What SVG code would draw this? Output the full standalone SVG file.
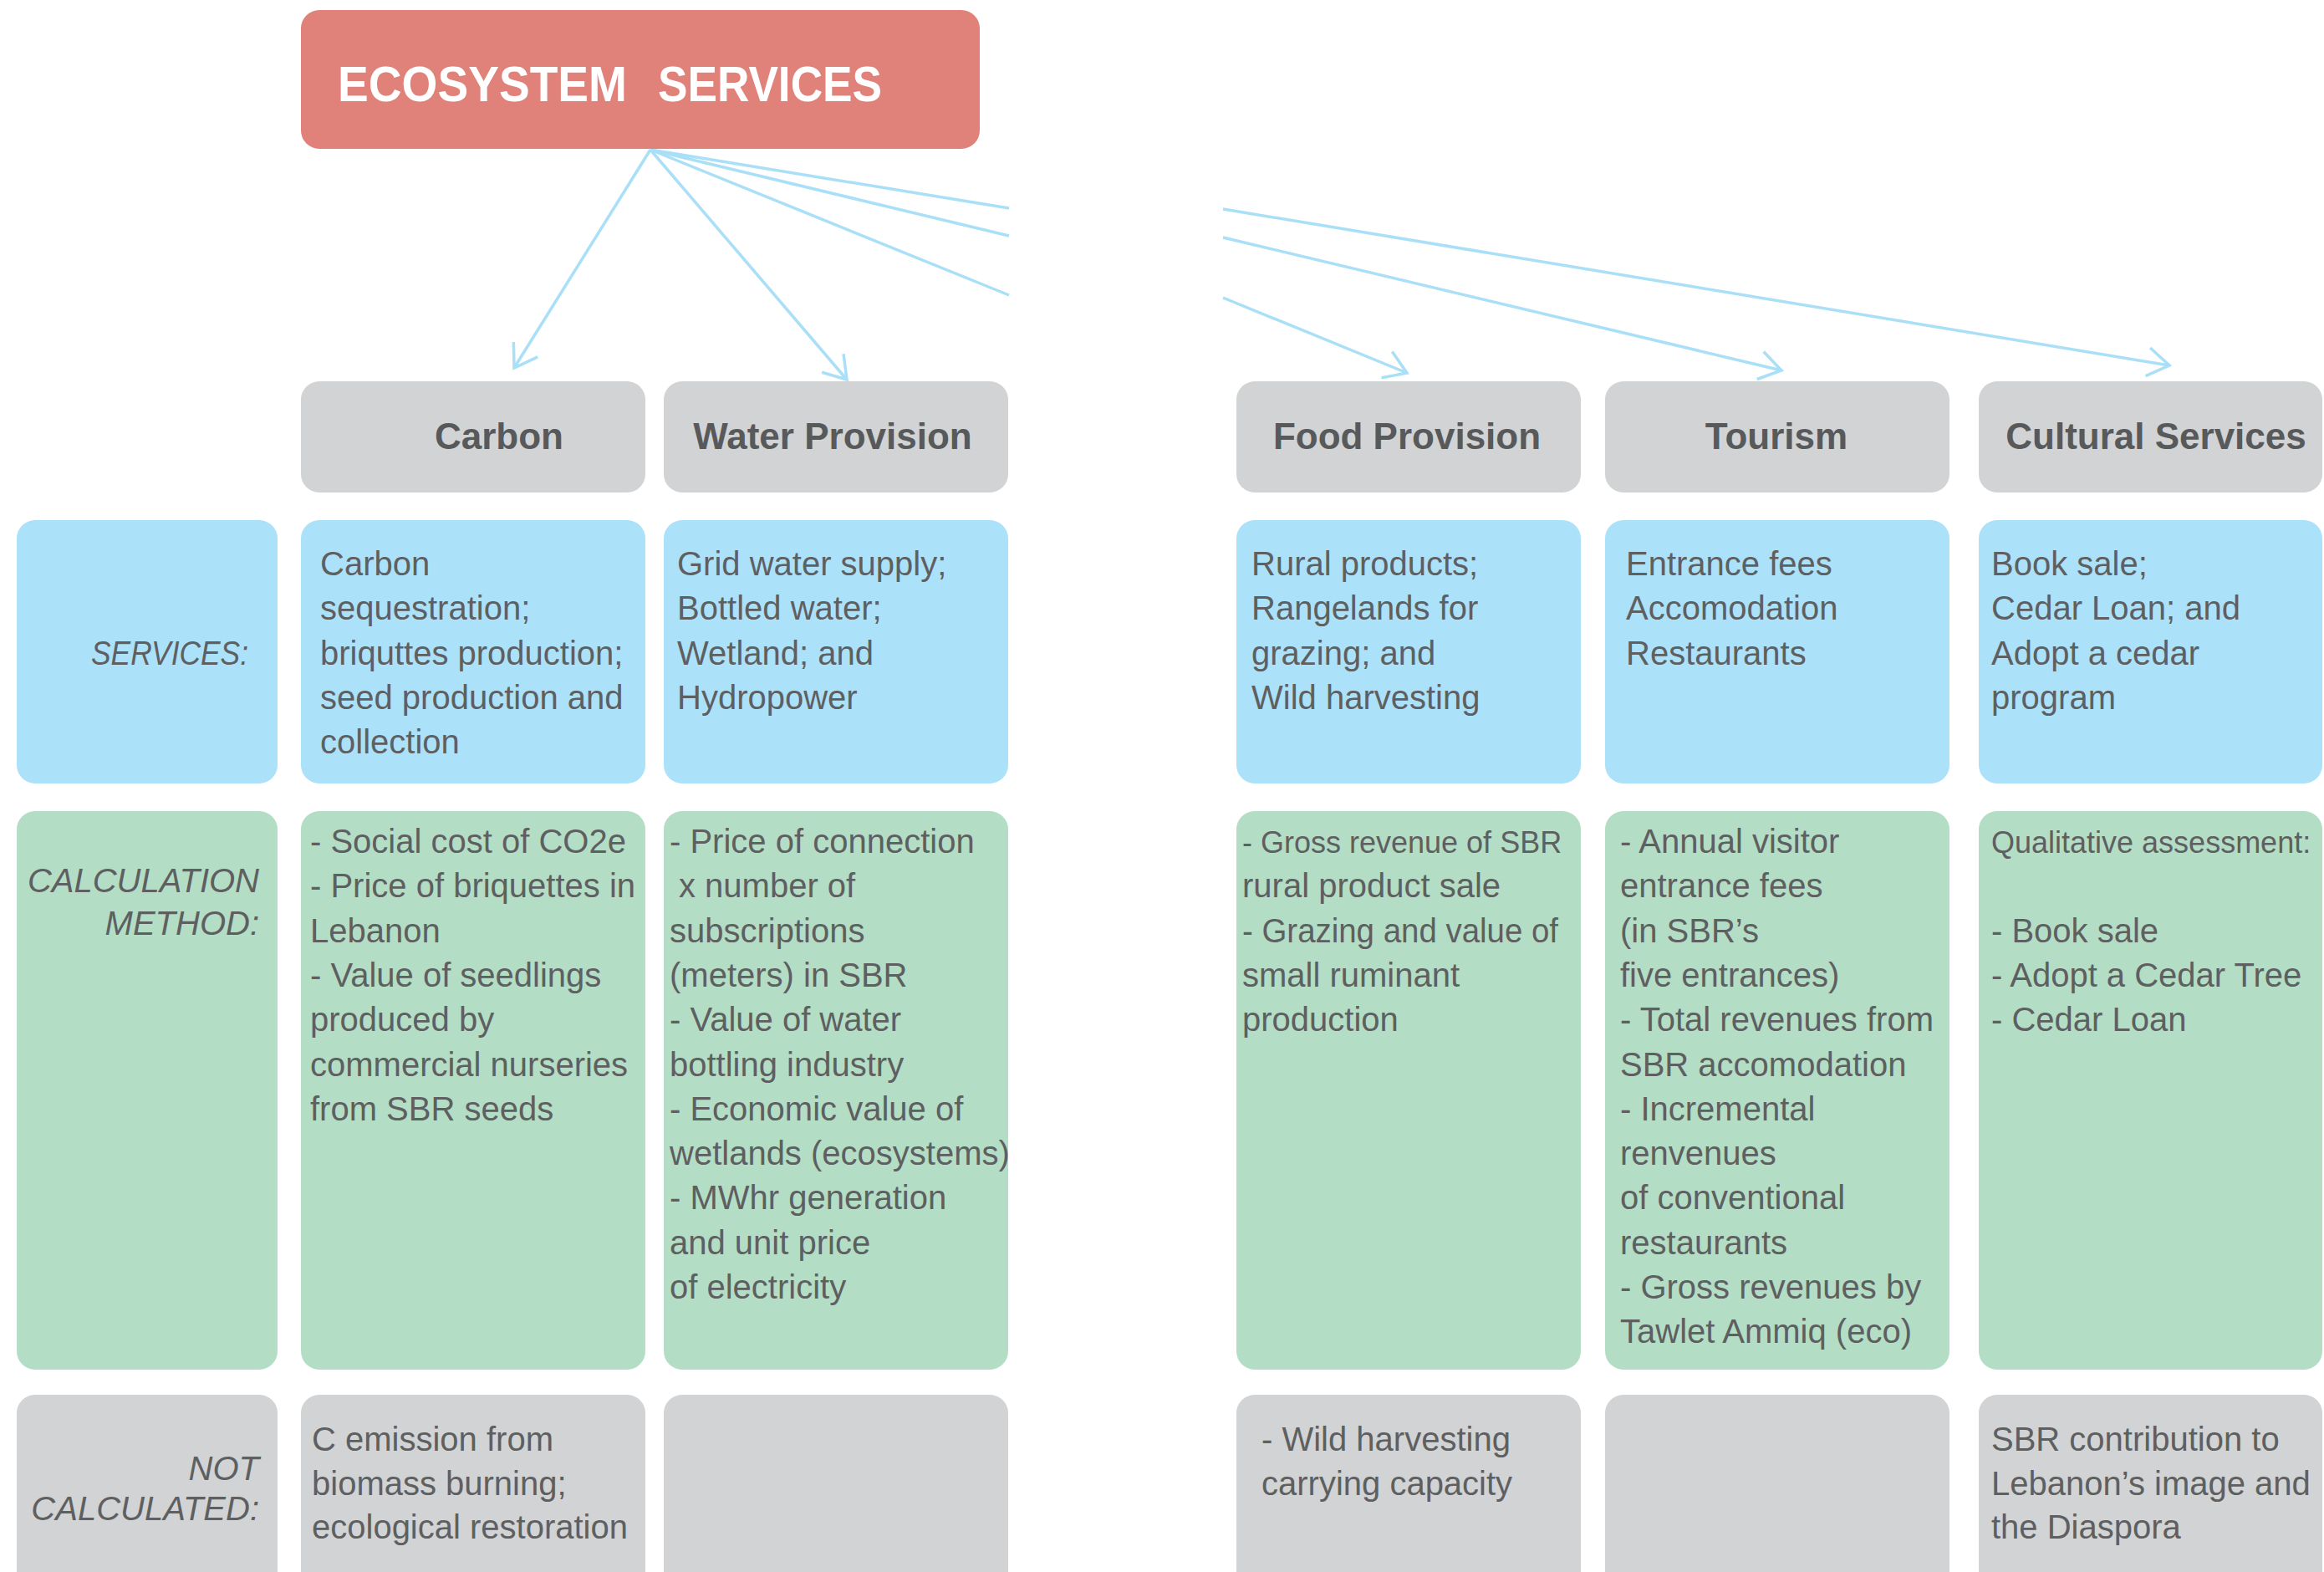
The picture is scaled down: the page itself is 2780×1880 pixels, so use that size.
<svg xmlns="http://www.w3.org/2000/svg" width="2780" height="1880" viewBox="0 0 2780 1880">
<defs>
<style>
.bg{fill:#ffffff}
.title{fill:#E0817A}
.hdr{fill:#D1D3D4}
.svc{fill:#ACE1FA}
.calc{fill:#B3DDC4}
.nc{fill:#D1D3D4}
.tt{font-family:"Liberation Sans",Arial,sans-serif;font-weight:bold;font-size:60px;fill:#ffffff}
.ht{font-family:"Liberation Sans",Arial,sans-serif;font-weight:bold;font-size:44px;fill:#58595B;text-anchor:middle}
.bt{font-family:"Liberation Sans",Arial,sans-serif;font-size:40px;fill:#5E5F61}
.sm{font-size:36px}
.lt{font-family:"Liberation Sans",Arial,sans-serif;font-style:italic;font-size:40px;fill:#5E5F61;text-anchor:end}
.conn{fill:none;stroke:#A9DFF7;stroke-width:3.5;stroke-linecap:butt}
</style>
<marker id="arr" markerUnits="userSpaceOnUse" orient="auto" markerWidth="60" markerHeight="60" refX="0" refY="0" viewBox="-40 -30 50 60" overflow="visible">
<path d="M-26,-17 L0,0 L-26,17" fill="none" stroke="#A9DFF7" stroke-width="3.5"/>
</marker>
</defs>
<rect class="bg" x="0" y="0" width="2780" height="1880"/>

<g id="connectors">
<path class="conn" d="M778,179 L615,440" marker-end="url(#arr)"/>
<path class="conn" d="M778,179 L1013,454" marker-end="url(#arr)"/>
<path class="conn" d="M778,179 L1207,353 M1463,356 L1683,446" marker-end="url(#arr)"/>
<path class="conn" d="M778,179 L1207,282 M1463,284 L2131,443" marker-end="url(#arr)"/>
<path class="conn" d="M778,179 L1207,249 M1463,250 L2595,437" marker-end="url(#arr)"/>
</g>

<g id="title">
<rect class="title" x="360" y="12" width="812" height="166" rx="22"/>
<text class="tt" y="121"><tspan x="404" textLength="346" lengthAdjust="spacingAndGlyphs">ECOSYSTEM</tspan><tspan x="787" textLength="268" lengthAdjust="spacingAndGlyphs">SERVICES</tspan></text>
</g>

<g id="hdr-carbon"><rect class="hdr" x="360" y="456" width="412" height="133" rx="22"/><text class="ht" x="597" y="537">Carbon</text></g>
<g id="hdr-water"><rect class="hdr" x="794" y="456" width="412" height="133" rx="22"/><text class="ht" x="996" y="537">Water Provision</text></g>
<g id="hdr-food"><rect class="hdr" x="1479" y="456" width="412" height="133" rx="22"/><text class="ht" x="1683" y="537">Food Provision</text></g>
<g id="hdr-tourism"><rect class="hdr" x="1920" y="456" width="412" height="133" rx="22"/><text class="ht" x="2125" y="537">Tourism</text></g>
<g id="hdr-cultural"><rect class="hdr" x="2367" y="456" width="411" height="133" rx="22"/><text class="ht" x="2579" y="537">Cultural Services</text></g>

<g id="lbl-services"><rect class="svc" x="20" y="622" width="312" height="315" rx="22"/><text class="lt" x="297" y="795" textLength="188" lengthAdjust="spacingAndGlyphs">SERVICES:</text></g>
<g id="svc-carbon"><rect class="svc" x="360" y="622" width="412" height="315" rx="22"/>
<text class="bt"><tspan x="383" y="688">Carbon</tspan><tspan x="383" y="741">sequestration;</tspan><tspan x="383" y="795">briquttes production;</tspan><tspan x="383" y="848">seed production and</tspan><tspan x="383" y="901">collection</tspan></text></g>
<g id="svc-water"><rect class="svc" x="794" y="622" width="412" height="315" rx="22"/>
<text class="bt"><tspan x="810" y="688">Grid water supply;</tspan><tspan x="810" y="741">Bottled water;</tspan><tspan x="810" y="795">Wetland; and</tspan><tspan x="810" y="848">Hydropower</tspan></text></g>
<g id="svc-food"><rect class="svc" x="1479" y="622" width="412" height="315" rx="22"/>
<text class="bt"><tspan x="1497" y="688">Rural products;</tspan><tspan x="1497" y="741">Rangelands for</tspan><tspan x="1497" y="795">grazing; and</tspan><tspan x="1497" y="848">Wild harvesting</tspan></text></g>
<g id="svc-tourism"><rect class="svc" x="1920" y="622" width="412" height="315" rx="22"/>
<text class="bt"><tspan x="1945" y="688">Entrance fees</tspan><tspan x="1945" y="741">Accomodation</tspan><tspan x="1945" y="795">Restaurants</tspan></text></g>
<g id="svc-cultural"><rect class="svc" x="2367" y="622" width="411" height="315" rx="22"/>
<text class="bt"><tspan x="2382" y="688">Book sale;</tspan><tspan x="2382" y="741">Cedar Loan; and</tspan><tspan x="2382" y="795">Adopt a cedar</tspan><tspan x="2382" y="848">program</tspan></text></g>

<g id="lbl-calc"><rect class="calc" x="20" y="970" width="312" height="668" rx="22"/><text class="lt"><tspan x="310" y="1067">CALCULATION</tspan><tspan x="310" y="1118">METHOD:</tspan></text></g>
<g id="calc-carbon"><rect class="calc" x="360" y="970" width="412" height="668" rx="22"/>
<text class="bt"><tspan x="371" y="1020">- Social cost of CO2e</tspan><tspan x="371" y="1073">- Price of briquettes in</tspan><tspan x="371" y="1127">Lebanon</tspan><tspan x="371" y="1180">- Value of seedlings</tspan><tspan x="371" y="1233">produced by</tspan><tspan x="371" y="1287">commercial nurseries</tspan><tspan x="371" y="1340">from SBR seeds</tspan></text></g>
<g id="calc-water"><rect class="calc" x="794" y="970" width="412" height="668" rx="22"/>
<text class="bt"><tspan x="801" y="1020">- Price of connection</tspan><tspan x="812" y="1073">x number of</tspan><tspan x="801" y="1127">subscriptions</tspan><tspan x="801" y="1180">(meters) in SBR</tspan><tspan x="801" y="1233">- Value of water</tspan><tspan x="801" y="1287">bottling industry</tspan><tspan x="801" y="1340">- Economic value of</tspan><tspan x="801" y="1393">wetlands (ecosystems)</tspan><tspan x="801" y="1446">- MWhr generation</tspan><tspan x="801" y="1500">and unit price</tspan><tspan x="801" y="1553">of electricity</tspan></text></g>
<g id="calc-food"><rect class="calc" x="1479" y="970" width="412" height="668" rx="22"/>
<text class="bt"><tspan x="1486" y="1020" class="sm">- Gross revenue of SBR</tspan><tspan x="1486" y="1073">rural product sale</tspan><tspan x="1486" y="1127" textLength="378" lengthAdjust="spacingAndGlyphs">- Grazing and value of</tspan><tspan x="1486" y="1180">small ruminant</tspan><tspan x="1486" y="1233">production</tspan></text></g>
<g id="calc-tourism"><rect class="calc" x="1920" y="970" width="412" height="668" rx="22"/>
<text class="bt"><tspan x="1938" y="1020">- Annual visitor</tspan><tspan x="1938" y="1073">entrance fees</tspan><tspan x="1938" y="1127">(in SBR’s</tspan><tspan x="1938" y="1180">five entrances)</tspan><tspan x="1938" y="1233">- Total revenues from</tspan><tspan x="1938" y="1287">SBR accomodation</tspan><tspan x="1938" y="1340">- Incremental</tspan><tspan x="1938" y="1393">renvenues</tspan><tspan x="1938" y="1446">of conventional</tspan><tspan x="1938" y="1500">restaurants</tspan><tspan x="1938" y="1553">- Gross revenues by</tspan><tspan x="1938" y="1606">Tawlet Ammiq (eco)</tspan></text></g>
<g id="calc-cultural"><rect class="calc" x="2367" y="970" width="411" height="668" rx="22"/>
<text class="bt"><tspan x="2382" y="1020" class="sm">Qualitative assessment:</tspan><tspan x="2382" y="1127">- Book sale</tspan><tspan x="2382" y="1180">- Adopt a Cedar Tree</tspan><tspan x="2382" y="1233">- Cedar Loan</tspan></text></g>

<g id="lbl-nc"><rect class="nc" x="20" y="1668" width="312" height="260" rx="22"/><text class="lt"><tspan x="310" y="1770">NOT</tspan><tspan x="310" y="1818">CALCULATED:</tspan></text></g>
<g id="nc-carbon"><rect class="nc" x="360" y="1668" width="412" height="260" rx="22"/>
<text class="bt"><tspan x="373" y="1735">C emission from</tspan><tspan x="373" y="1788">biomass burning;</tspan><tspan x="373" y="1840">ecological restoration</tspan></text></g>
<g id="nc-water"><rect class="nc" x="794" y="1668" width="412" height="260" rx="22"/></g>
<g id="nc-food"><rect class="nc" x="1479" y="1668" width="412" height="260" rx="22"/>
<text class="bt"><tspan x="1509" y="1735">- Wild harvesting</tspan><tspan x="1509" y="1788">carrying capacity</tspan></text></g>
<g id="nc-tourism"><rect class="nc" x="1920" y="1668" width="412" height="260" rx="22"/></g>
<g id="nc-cultural"><rect class="nc" x="2367" y="1668" width="411" height="260" rx="22"/>
<text class="bt"><tspan x="2382" y="1735">SBR contribution to</tspan><tspan x="2382" y="1788">Lebanon’s image and</tspan><tspan x="2382" y="1840">the Diaspora</tspan></text></g>
</svg>
